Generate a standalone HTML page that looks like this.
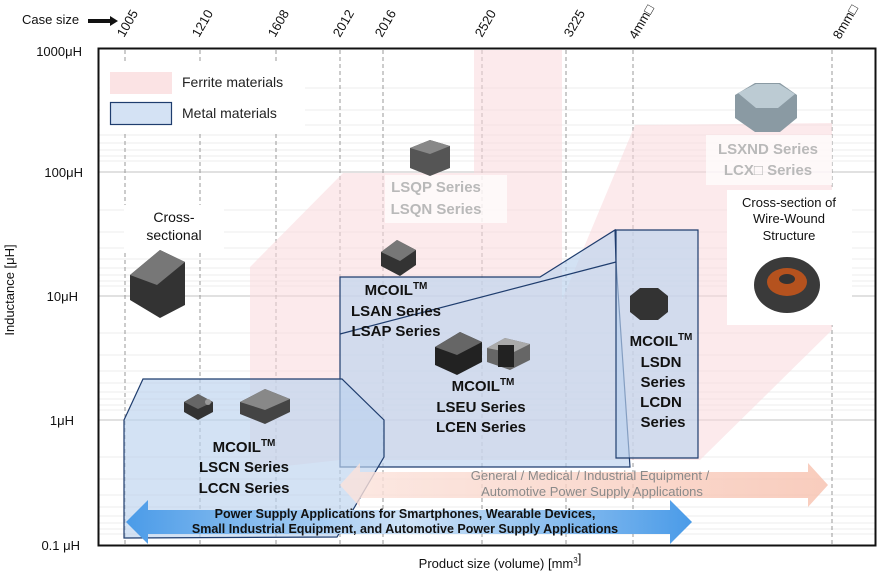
<!DOCTYPE html>
<html><head><meta charset="utf-8"><style>
body{margin:0;background:#fff;}
svg{display:block;font-family:"Liberation Sans",Arial,sans-serif;}
</style></head><body>
<svg width="878" height="575" viewBox="0 0 878 575" xmlns="http://www.w3.org/2000/svg">
<defs>
<linearGradient id="ba" x1="0" x2="1" y1="0" y2="0">
<stop offset="0" stop-color="#4a9be8"/><stop offset="0.5" stop-color="#cfe3f7"/><stop offset="1" stop-color="#4a9be8"/></linearGradient>
<linearGradient id="pa" x1="0" x2="1" y1="0" y2="0">
<stop offset="0" stop-color="#fbe3dc"/><stop offset="1" stop-color="#f7c0ad"/></linearGradient>
</defs>
<!-- minor gridlines -->
<g stroke="#ececec" stroke-width="1">
<line x1="98" x2="876" y1="88" y2="88"/><line x1="98" x2="876" y1="110" y2="110"/><line x1="98" x2="876" y1="125" y2="125"/><line x1="98" x2="876" y1="135" y2="135"/><line x1="98" x2="876" y1="143" y2="143"/><line x1="98" x2="876" y1="150" y2="150"/><line x1="98" x2="876" y1="156" y2="156"/><line x1="98" x2="876" y1="161" y2="161"/>
<line x1="98" x2="876" y1="210" y2="210"/><line x1="98" x2="876" y1="232" y2="232"/><line x1="98" x2="876" y1="248" y2="248"/><line x1="98" x2="876" y1="259" y2="259"/><line x1="98" x2="876" y1="268" y2="268"/><line x1="98" x2="876" y1="275" y2="275"/><line x1="98" x2="876" y1="281" y2="281"/><line x1="98" x2="876" y1="286" y2="286"/>
<line x1="98" x2="876" y1="333" y2="333"/><line x1="98" x2="876" y1="355" y2="355"/><line x1="98" x2="876" y1="371" y2="371"/><line x1="98" x2="876" y1="383" y2="383"/><line x1="98" x2="876" y1="392" y2="392"/><line x1="98" x2="876" y1="399" y2="399"/><line x1="98" x2="876" y1="405" y2="405"/><line x1="98" x2="876" y1="410" y2="410"/>
<line x1="98" x2="876" y1="457" y2="457"/><line x1="98" x2="876" y1="479" y2="479"/><line x1="98" x2="876" y1="495" y2="495"/><line x1="98" x2="876" y1="507" y2="507"/><line x1="98" x2="876" y1="516" y2="516"/><line x1="98" x2="876" y1="523" y2="523"/><line x1="98" x2="876" y1="529" y2="529"/><line x1="98" x2="876" y1="534" y2="534"/>
</g>
<g stroke="#cfcfcf" stroke-width="1.3">
<line x1="98" x2="876" y1="172" y2="172"/><line x1="98" x2="876" y1="296" y2="296"/><line x1="98" x2="876" y1="420" y2="420"/>
</g>
<g stroke="#999" stroke-dasharray="4,3" stroke-width="1">
<line x1="125" x2="125" y1="50" y2="545"/><line x1="200" x2="200" y1="50" y2="545"/><line x1="276" x2="276" y1="50" y2="545"/><line x1="340" x2="340" y1="50" y2="545"/><line x1="383" x2="383" y1="50" y2="545"/><line x1="482" x2="482" y1="50" y2="545"/><line x1="566" x2="566" y1="50" y2="545"/><line x1="633" x2="633" y1="50" y2="545"/><line x1="832" x2="832" y1="50" y2="545"/>
</g>
<!-- ferrite region -->
<g fill="#f9d9dc" opacity="0.55">
<polygon points="250,470 250,267 343,173 474,173 474,50 562,50 562,300 635,125 832,123 832,330 700,460 340,460"/>
</g>
<!-- white label boxes -->
<rect x="385" y="175" width="122" height="48" fill="#fff" opacity="0.7"/>
<rect x="706" y="135" width="126" height="50" fill="#fff" opacity="0.7"/>
<!-- legend -->
<rect x="100" y="62" width="205" height="70" fill="#fff"/>
<rect x="110" y="72" width="62" height="22" fill="#fbe3e4"/>
<rect x="110.5" y="102.5" width="61" height="22" fill="#d4e2f4" stroke="#1f3d6e" stroke-width="1.2"/>
<text x="182" y="87" font-size="14" fill="#222">Ferrite materials</text>
<text x="182" y="118" font-size="14" fill="#222">Metal materials</text>
<!-- metal regions -->
<g fill="#bcd2ee" fill-opacity="0.65" stroke="#1f3d6e" stroke-width="1.2">
<polygon points="340,277 540,277 615,230 616,262 630,467 340,467"/>
<polygon points="616,230 698,230 698,458 616,458"/>
<polygon points="124,420 143,379 342,379 384,420 384,457 337,537 124,538"/>
</g>
<line x1="340" y1="334" x2="616" y2="262" stroke="#1f3d6e" stroke-width="1.2"/>
<!-- arrows -->
<polygon points="340,485 360,463 360,472 808,472 808,463 828,485 808,507 808,498 360,498 360,507" fill="url(#pa)" opacity="0.8"/>
<polygon points="126,522 148,500 148,510 670,510 670,500 692,522 670,544 670,534 148,534 148,544" fill="url(#ba)"/>
<text x="590" y="480" font-size="13" fill="#8a8a8a" text-anchor="middle">General / Medical / Industrial Equipment /</text>
<text x="592" y="496" font-size="13" fill="#8a8a8a" text-anchor="middle">Automotive Power Supply Applications</text>
<g font-size="12.5" font-weight="bold" fill="#111" text-anchor="middle">
<text x="405" y="518">Power Supply Applications for Smartphones, Wearable Devices,</text>
<text x="405" y="533">Small Industrial Equipment, and Automotive Power Supply Applications</text>
</g>
<!-- component icons -->
<g>
<polygon points="410,148 430,140 450,146 450,168 430,176 410,168" fill="#555"/><polygon points="410,148 430,140 450,146 430,154" fill="#888"/>
<polygon points="381,252 397,240 416,250 416,265 400,276 381,266" fill="#333"/><polygon points="381,252 397,240 416,250 400,261" fill="#777"/>
<polygon points="184,402 198,394 213,402 213,412 198,420 184,412" fill="#333"/><polygon points="184,402 198,394 213,402 198,409" fill="#666"/><circle cx="208" cy="402" r="3" fill="#999"/>
<polygon points="240,402 265,389 290,399 290,412 265,424 240,414" fill="#444"/><polygon points="240,402 265,389 290,399 265,410" fill="#888"/>
<polygon points="435,347 460,332 482,342 482,362 457,375 435,365" fill="#222"/><polygon points="435,347 460,332 482,342 457,355" fill="#666"/>
<polygon points="487,348 505,338 530,344 530,360 510,370 487,362" fill="#666"/><polygon points="487,348 505,338 530,344 512,353" fill="#aaa"/><rect x="498" y="345" width="16" height="22" fill="#222"/>
<polygon points="630,296 640,288 658,288 668,296 668,312 658,320 640,320 630,312" fill="#333"/>
<polygon points="735,95 755,83 780,83 797,95 797,118 780,132 755,132 735,118" fill="#8a9aa3"/><polygon points="738,93 756,84 779,84 795,94 778,108 756,108" fill="#bccbd3"/>
<polygon points="130,275 160,250 185,262 185,305 160,318 130,300" fill="#333"/><polygon points="130,275 160,250 185,262 157,285" fill="#777"/>
<ellipse cx="787" cy="285" rx="33" ry="28" fill="#3a3a3a"/><ellipse cx="787" cy="285" rx="18" ry="14" fill="#b5521e"/>
</g>
<!-- cross-section boxes -->
<rect x="124" y="205" width="100" height="45" fill="#fff"/>
<text x="174" y="222" font-size="14" fill="#111" text-anchor="middle">Cross-</text>
<text x="174" y="240" font-size="14" fill="#111" text-anchor="middle">sectional</text>
<rect x="727" y="190" width="125" height="135" fill="#fff"/>
<text x="789" y="207" font-size="13" fill="#111" text-anchor="middle">Cross-section of</text>
<text x="789" y="223" font-size="13" fill="#111" text-anchor="middle">Wire-Wound</text>
<text x="789" y="240" font-size="13" fill="#111" text-anchor="middle">Structure</text>
<ellipse cx="787" cy="285" rx="33" ry="28" fill="#3a3a3a"/><ellipse cx="787" cy="282" rx="20" ry="14" fill="#b5521e"/><ellipse cx="787" cy="279" rx="8" ry="5" fill="#333"/>
<!-- series labels -->
<g font-size="15" font-weight="bold" fill="#111" text-anchor="middle">
<text x="244" y="452">MCOIL<tspan font-size="10" dy="-6">TM</tspan></text>
<text x="244" y="472" dy="0">LSCN Series</text>
<text x="244" y="493">LCCN Series</text>
<text x="396" y="295">MCOIL<tspan font-size="10" dy="-6">TM</tspan></text>
<text x="396" y="316">LSAN Series</text>
<text x="396" y="336">LSAP Series</text>
<text x="483" y="391">MCOIL<tspan font-size="10" dy="-6">TM</tspan></text>
<text x="481" y="412">LSEU Series</text>
<text x="481" y="432">LCEN Series</text>
<text x="661" y="346">MCOIL<tspan font-size="10" dy="-6">TM</tspan></text>
<text x="661" y="367">LSDN</text>
<text x="663" y="387">Series</text>
<text x="661" y="407">LCDN</text>
<text x="663" y="427">Series</text>
</g>
<g font-size="15" font-weight="bold" fill="#b9b9b9" text-anchor="middle">
<text x="436" y="192">LSQP Series</text>
<text x="436" y="214">LSQN Series</text>
<text x="768" y="154">LSXND Series</text>
<text x="768" y="175">LCX□ Series</text>
</g>
<!-- frame -->
<rect x="98.5" y="48.5" width="777" height="497" fill="none" stroke="#111" stroke-width="2"/>
<!-- y labels -->
<g font-size="13" fill="#111" text-anchor="end">
<text x="82" y="56">1000μH</text><text x="83" y="177">100μH</text><text x="78" y="301">10μH</text><text x="74" y="425">1μH</text><text x="80" y="550">0.1 μH</text>
</g>
<text transform="translate(14,290) rotate(-90)" font-size="13" fill="#111" text-anchor="middle">Inductance [μH]</text>
<text x="500" y="568" font-size="13" fill="#111" text-anchor="middle">Product size (volume) [mm<tspan font-size="8" dy="-5">3</tspan>]</text>
<!-- case sizes -->
<text x="22" y="24" font-size="13" fill="#111">Case size</text>
<polygon points="88,19 110,19 110,16 118,21 110,26 110,23 88,23" fill="#111"/>
<g font-size="13" fill="#111">
<text transform="translate(124,38) rotate(-60)">1005</text>
<text transform="translate(199,38) rotate(-60)">1210</text>
<text transform="translate(275,38) rotate(-60)">1608</text>
<text transform="translate(340,38) rotate(-60)">2012</text>
<text transform="translate(382,38) rotate(-60)">2016</text>
<text transform="translate(482,38) rotate(-60)">2520</text>
<text transform="translate(571,38) rotate(-60)">3225</text>
<text transform="translate(636,40) rotate(-60)">4mm□</text>
<text transform="translate(840,40) rotate(-60)">8mm□</text>
</g>
</svg>
</body></html>
